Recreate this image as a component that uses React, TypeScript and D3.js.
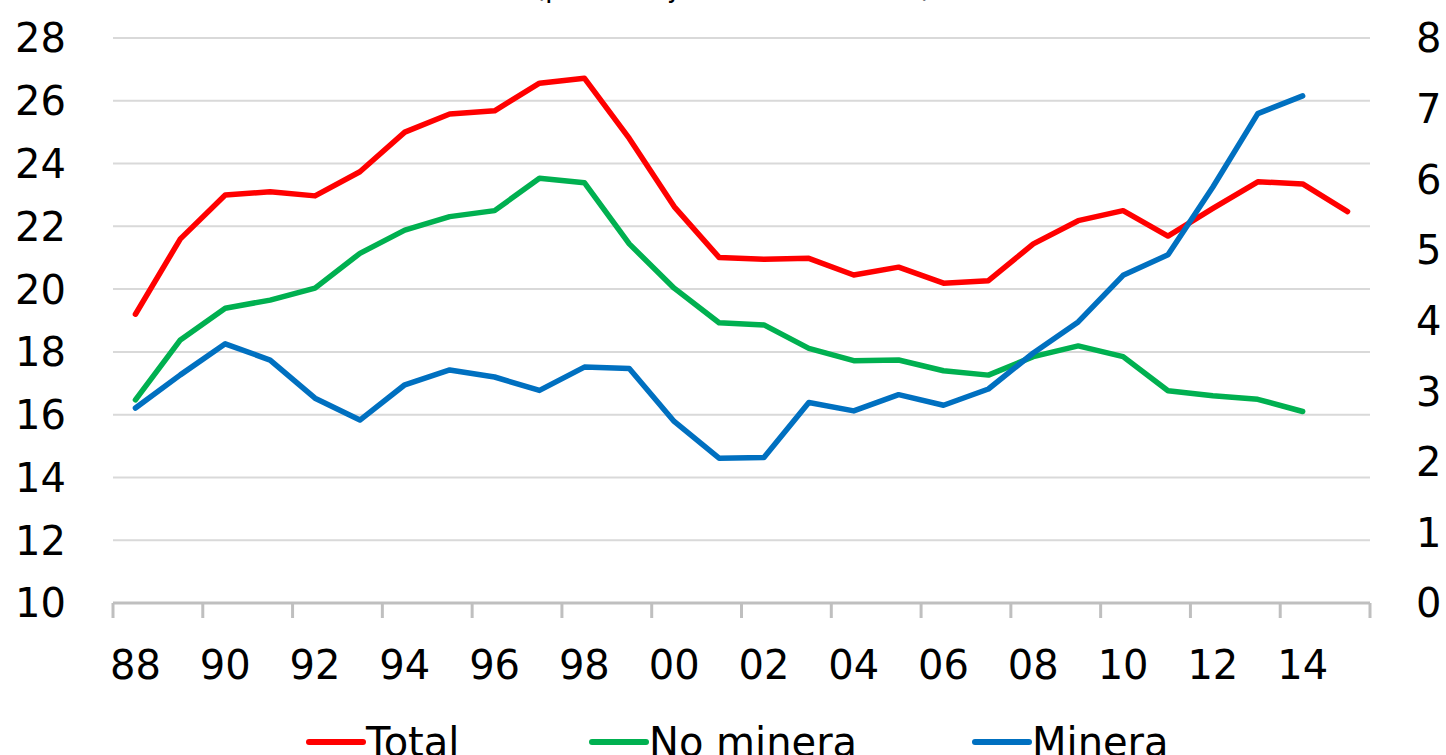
import * as d3 from "d3";

const years = d3.range(1988, 2016);
const total = [19.2, 21.6, 23.0, 23.1, 22.97, 23.74, 25.0, 25.58, 25.68, 26.56, 26.72, 24.8, 22.63, 21.01, 20.95, 20.98, 20.45, 20.7, 20.19, 20.27, 21.44, 22.18, 22.5, 21.69, 22.57, 23.42, 23.35, 22.47];
const noMinera = [16.47, 18.38, 19.39, 19.65, 20.03, 21.14, 21.88, 22.31, 22.5, 23.53, 23.39, 21.44, 20.03, 18.93, 18.86, 18.11, 17.72, 17.74, 17.4, 17.26, 17.85, 18.19, 17.85, 16.76, 16.6, 16.49, 16.1];
const minera = [2.76, 3.23, 3.67, 3.44, 2.9, 2.59, 3.09, 3.3, 3.2, 3.01, 3.34, 3.32, 2.57, 2.05, 2.06, 2.84, 2.72, 2.95, 2.8, 3.03, 3.54, 3.98, 4.64, 4.93, 5.89, 6.93, 7.18];
const leftTicks = [10, 12, 14, 16, 18, 20, 22, 24, 26, 28];
const rightTicks = [0, 1, 2, 3, 4, 5, 6, 7, 8];
const xLabelYears = d3.range(1988, 2016, 2);

const W = 1446;
const H = 755;
const left = 113;
const right = 1370;
const top = 38;
const bottom = 603;
const font = "'DejaVu Sans', Verdana, sans-serif";

export default function App() {
  const x = d3.scalePoint<number>().domain(years).range([left, right]).padding(0.5);
  const step = x.step();
  const yL = d3.scaleLinear().domain([10, 28]).range([bottom, top]);
  const yR = d3.scaleLinear().domain([0, 8]).range([bottom, top]);

  // left axis series
  const lineL = d3
    .line<number>()
    .x((_, i) => x(years[i]) as number)
    .y((d) => yL(d));
  // right axis series
  const lineR = d3
    .line<number>()
    .x((_, i) => x(years[i]) as number)
    .y((d) => yR(d));

  const series = [
    { name: "Total", color: "#ff0000", d: lineL(total) },
    { name: "No minera", color: "#00b050", d: lineL(noMinera) },
    { name: "Minera", color: "#0070c0", d: lineR(minera) },
  ];

  const legend = [
    { name: "Total", color: "#ff0000", x0: 309 },
    { name: "No minera", color: "#00b050", x0: 592 },
    { name: "Minera", color: "#0070c0", x0: 975 },
  ];

  const boundaries = d3.range(0, years.length + 1, 2).map((i) => left + i * step);

  return (
    <svg width={W} height={H} style={{ position: "absolute", left: 0, top: 0, background: "#fff" }} fontFamily={font}>
      <text x={733} y={-3} textAnchor="middle" fontSize={28} fill="#000">
        (porcentaje del PBI nominal)
      </text>

      {leftTicks.map((t) => (
        <line key={"g" + t} x1={left} x2={right} y1={yL(t)} y2={yL(t)} stroke="#d9d9d9" strokeWidth={2} />
      ))}

      <line x1={left} x2={right} y1={bottom} y2={bottom} stroke="#bfbfbf" strokeWidth={3} />
      {boundaries.map((bx, i) => (
        <line key={"t" + i} x1={bx} x2={bx} y1={bottom} y2={bottom + 15} stroke="#bfbfbf" strokeWidth={3} />
      ))}

      {leftTicks.map((t) => (
        <text key={"l" + t} x={66} y={yL(t)} dy="0.36em" textAnchor="end" fontSize={40} fill="#000">
          {t}
        </text>
      ))}
      {rightTicks.map((t) => (
        <text key={"r" + t} x={1416} y={yR(t)} dy="0.36em" textAnchor="start" fontSize={40} fill="#000">
          {t}
        </text>
      ))}
      {xLabelYears.map((yr) => (
        <text key={"x" + yr} x={x(yr)} y={665} dy="0.36em" textAnchor="middle" fontSize={40} fill="#000">
          {String(yr % 100).padStart(2, "0")}
        </text>
      ))}

      {series.map((s) => (
        <path key={s.name} d={s.d ?? ""} fill="none" stroke={s.color} strokeWidth={5.5} strokeLinejoin="round" strokeLinecap="round" />
      ))}

      {legend.map((l) => (
        <g key={l.name}>
          <line x1={l.x0} x2={l.x0 + 54} y1={742} y2={742} stroke={l.color} strokeWidth={6} strokeLinecap="round" />
          <text x={l.x0 + 57} y={742} dy="0.36em" fontSize={40} fill="#000">
            {l.name}
          </text>
        </g>
      ))}
    </svg>
  );
}
